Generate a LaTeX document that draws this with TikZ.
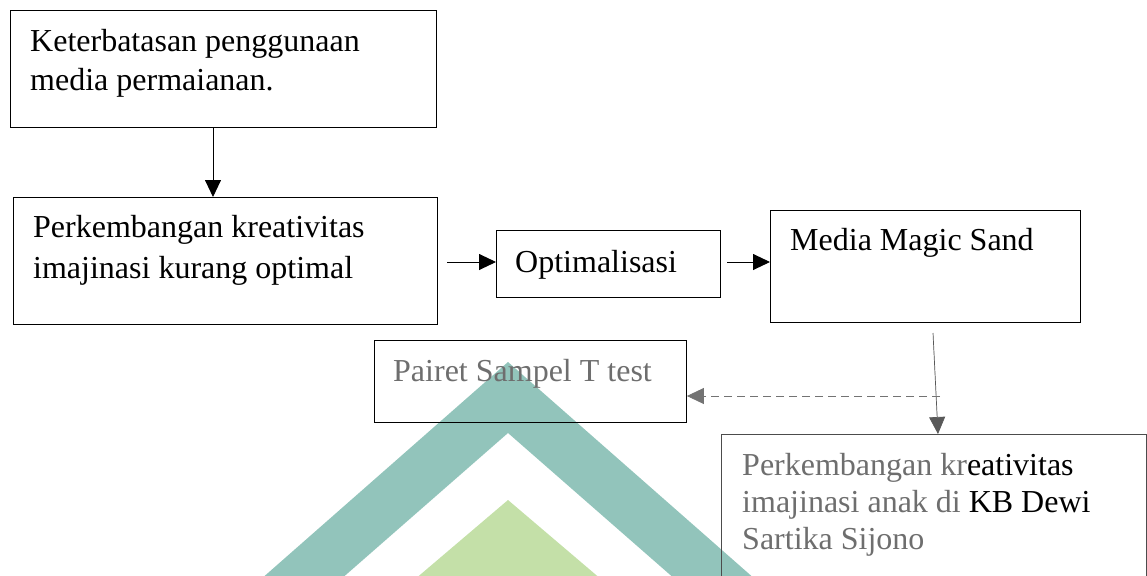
\documentclass[tikz,border=0pt]{standalone}
\usepackage{fontspec}
\setmainfont{Liberation Serif}
\usetikzlibrary{arrows.meta}

\definecolor{wmteal}{RGB}{146,196,187}
\definecolor{wmgreen}{RGB}{196,224,168}
\definecolor{txtgray}{RGB}{110,110,110}

\begin{document}
\begin{tikzpicture}[x=1pt, y=-1pt,
    box/.style={draw, line width=0.9pt, inner sep=0pt, anchor=north west},
    txt/.style={anchor=north west, inner sep=0pt, align=left, font=\fontsize{32}{40}\selectfont},
    arr/.style={line width=0.9pt, arrows=-{Triangle[length=17pt, width=16pt]}}]
    \useasboundingbox (0,0) rectangle (1147,575);
    \clip (0,0) rectangle (1147,575);

    % watermark in the background
    \fill[wmteal] (260,580) -- (508,362) -- (756,580) -- (676,580) -- (508,433) -- (340,580) -- cycle;
    \fill[wmgreen] (414,580) -- (508,500) -- (602,580) -- cycle;

    % boxes
    \node[box, minimum width=426pt, minimum height=117pt] (limit) at (10,10) {};
    \node[txt, font=\fontsize{32}{39}\selectfont] (limittext) at (30,29) {Keterbatasan penggunaan\\media permaianan.};

    \node[box, minimum width=424pt, minimum height=127pt] (low) at (13,197) {};
    \node[txt, font=\fontsize{32}{41}\selectfont] (lowtext) at (33,215) {Perkembangan kreativitas\\imajinasi kurang optimal};

    \node[box, minimum width=224pt, minimum height=67pt] (optim) at (496,230) {};
    \node[txt] (optimtext) at (515,250) {Optimalisasi};

    \node[box, minimum width=310pt, minimum height=112pt] (sand) at (770,210) {};
    \node[txt] (sandtext) at (790,228) {Media Magic Sand};

    \node[box, minimum width=312pt, minimum height=82pt] (ttest) at (374,340) {};
    \node[txt, text=txtgray] (ttesttext) at (393,359) {Pairet Sampel T test};

    \node[box, draw=black!70, minimum width=425pt, minimum height=160pt] (result) at (721,434) {};
    \node[txt, font=\fontsize{32}{37}\selectfont, text=txtgray] (resulttext) at (742,453)
        {Perkembangan kr\textcolor{black}{eativitas}\\imajinasi anak di \textcolor{black}{KB Dewi}\\Sartika Sijono};

    % connectors
    \coordinate (c1) at (447,262);
    \coordinate (c2) at (727,262);
    \coordinate (c3) at (933,333);
    \coordinate (c4) at (940,396);

    \draw[arr] (limit.south -| 213,0) -- (low.north -| 213,0);
    \draw[arr] (c1) -- (optim.west |- c1);
    \draw[arr] (c2) -- (sand.west |- c2);
    \draw[arr, draw=black!65, fill=black!65, line width=0.7pt] (c3) -- (938,434);
    \draw[arr, draw=black!55, line width=0.8pt, dashed, dash pattern=on 8pt off 5pt] (c4) -- (ttest.east |- c4);
\end{tikzpicture}
\end{document}
